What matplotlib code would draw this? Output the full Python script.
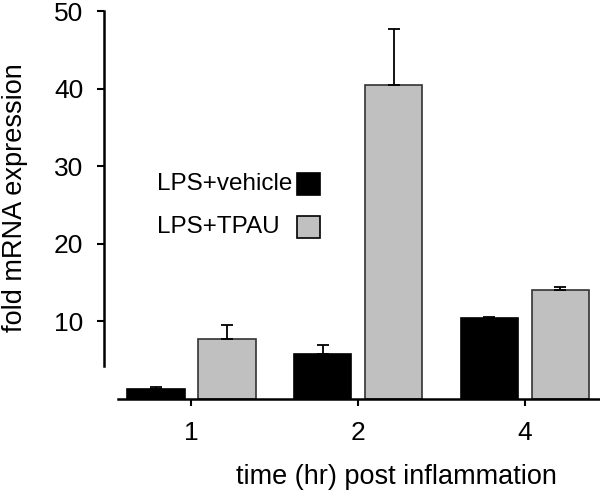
import numpy as np
import matplotlib
matplotlib.use("Agg")
import matplotlib.pyplot as plt
from matplotlib.patches import Rectangle

plt.rcParams['font.family'] = ['Liberation Sans', 'DejaVu Sans']

# data
times = ['1', '2', '4']
vehicle = [1.3, 5.8, 10.4]
vehicle_err = [0.3, 1.2, 0.2]
tpau = [7.7, 40.5, 14.0]
tpau_err = [1.8, 7.2, 0.45]
series_labels = ['LPS+vehicle', 'LPS+TPAU']
colors = ['black', '#c0c0c0']

fig = plt.figure(figsize=(6, 4.94), dpi=100)
ax = fig.add_axes([0.1733, 0.1923, 0.8267, 0.7854])

x = np.arange(len(times))
width = 0.345
off = 0.213

err_kw = dict(ecolor='black', elinewidth=1.3, capsize=4.3, capthick=1.3)
ax.bar(x - off, vehicle, width, color=colors[0], edgecolor='black', linewidth=1.2,
       yerr=[np.zeros(3), vehicle_err], error_kw=err_kw, zorder=2)
ax.bar(x + off, tpau, width, color=colors[1], edgecolor='#333333', linewidth=1.2,
       yerr=[np.zeros(3), tpau_err], error_kw=err_kw, zorder=2)

ax.set_xlim(-0.524, 2.45)
ax.set_ylim(0, 50)
ax.set_xticks(x)
ax.set_xticklabels(times)
ax.set_yticks([10, 20, 30, 40, 50])

for s in ['top', 'right']:
    ax.spines[s].set_visible(False)
ax.spines['left'].set_bounds(4.3, 50)
ax.spines['bottom'].set_bounds(-0.44, 2.45)
ax.spines['left'].set_linewidth(1.8)
ax.spines['bottom'].set_linewidth(1.8)
ax.tick_params(axis='both', direction='out', length=5, width=1.5, labelsize=19)
ax.tick_params(axis='x', pad=11)
ax.tick_params(axis='y', pad=10)

ax.set_xlabel('time (hr) post inflammation', fontsize=19.5, va='center')
ax.xaxis.set_label_coords(0.589, -0.201)
ax.set_ylabel('fold mRNA expression', fontsize=19.5, va='center')
ax.yaxis.set_label_coords(-0.179, 0.52)

# legend drawn by hand: text left, swatch right
for i, (lab, c) in enumerate(zip(series_labels, colors)):
    yc = 0.554 - i * 0.111
    ax.text(0.107, yc, lab, transform=ax.transAxes, fontsize=17.5,
            va='center', ha='left')
    ax.add_patch(Rectangle((0.389, yc - 0.028), 0.046, 0.056, transform=ax.transAxes,
                           facecolor=c, edgecolor='black', linewidth=1.2, clip_on=False))

fig.savefig('out.png', dpi=100)
